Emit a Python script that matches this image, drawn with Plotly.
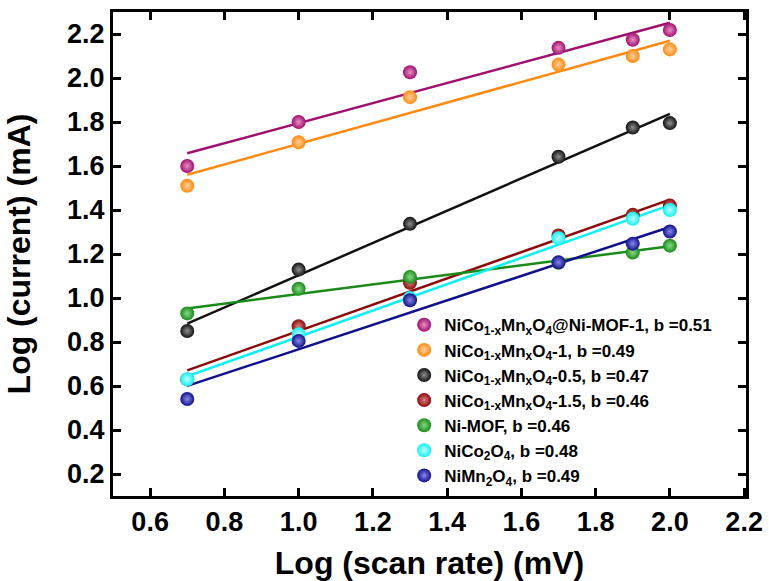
import numpy as np
import plotly.graph_objects as go

# ---- data ----
log_scan_rate = [0.7, 1.0, 1.3, 1.7, 1.9, 2.0]

mof_composite = [1.60, 1.80, 2.026, 2.137, 2.174, 2.218]
nicomn_1 = [1.51, 1.708, 1.913, 2.061, 2.10, 2.13]
nicomn_05 = [0.85, 1.129, 1.337, 1.642, 1.775, 1.795]
nicomn_15 = [0.63, 0.872, 1.069, 1.284, 1.378, 1.42]
ni_mof = [0.93, 1.042, 1.096, 1.16, 1.207, 1.238]
nico2o4 = [0.631, 0.835, 1.0, 1.272, 1.36, 1.40]
nimn2o4 = [0.541, 0.805, 0.99, 1.162, 1.247, 1.302]

series_names = [
    "NiCo<sub>1-x</sub>Mn<sub>x</sub>O<sub>4</sub>@Ni-MOF-1, b =0.51",
    "NiCo<sub>1-x</sub>Mn<sub>x</sub>O<sub>4</sub>-1, b =0.49",
    "NiCo<sub>1-x</sub>Mn<sub>x</sub>O<sub>4</sub>-0.5, b =0.47",
    "NiCo<sub>1-x</sub>Mn<sub>x</sub>O<sub>4</sub>-1.5, b =0.46",
    "Ni-MOF, b =0.46",
    "NiCo<sub>2</sub>O<sub>4</sub>, b =0.48",
    "NiMn<sub>2</sub>O<sub>4</sub>, b =0.49",
]
series_values = [mof_composite, nicomn_1, nicomn_05, nicomn_15, ni_mof, nico2o4, nimn2o4]
series_colors = ["#A0106E", "#FF8A10", "#111111", "#8B0A0A", "#1A8A1A", "#10F0F0", "#10108A"]
highlight_colors = ["#E890C4", "#FFD0A0", "#909090", "#D88080", "#88D888", "#C0FFFF", "#8888E8"]

x_ticks = [0.6, 0.8, 1.0, 1.2, 1.4, 1.6, 1.8, 2.0, 2.2]
y_ticks = [0.2, 0.4, 0.6, 0.8, 1.0, 1.2, 1.4, 1.6, 1.8, 2.0, 2.2]

FONT = "Liberation Sans, Arial, sans-serif"

fig = go.Figure()

xs = np.array(log_scan_rate)
# linear fit lines (drawn first, under the markers)
for vals, col in zip(series_values, series_colors):
    k, b = np.polyfit(xs, np.array(vals), 1)
    xf = np.array([xs.min(), xs.max()])
    fig.add_trace(go.Scatter(
        x=xf, y=k * xf + b, mode="lines",
        line=dict(color=col, width=2.5), showlegend=False, hoverinfo="skip"))

for name, vals, col, hl in zip(series_names, series_values, series_colors, highlight_colors):
    fig.add_trace(go.Scatter(
        x=log_scan_rate, y=vals, mode="markers", name=name,
        marker=dict(size=14, color=col, line=dict(width=0),
                    gradient=dict(type="radial", color=hl))))

axis_common = dict(
    showline=True, linecolor="black", linewidth=3, mirror="allticks",
    ticks="inside", ticklen=8, tickwidth=2.5, tickcolor="black",
    showgrid=False, zeroline=False, automargin=False,
    tickfont=dict(family=FONT, size=27, color="black", weight="bold"),
)

fig.update_xaxes(
    range=[0.5, 2.205], tickvals=x_ticks, ticktext=[f"{v:.1f}" for v in x_ticks],
    title=dict(text="Log (scan rate) (mV)", standoff=20,
               font=dict(family=FONT, size=32, color="black", weight="bold")),
    **axis_common)
fig.update_yaxes(
    range=[0.1, 2.3], tickvals=y_ticks, ticktext=[f"{v:.1f}" for v in y_ticks],
    title=dict(text="Log (current) (mA)", standoff=27,
               font=dict(family=FONT, size=32, color="black", weight="bold")),
    **axis_common)

fig.update_layout(
    width=769, height=581,
    margin=dict(l=113, r=23, t=12, b=85),
    paper_bgcolor="white", plot_bgcolor="white",
    legend=dict(x=0.46, y=0.39, xanchor="left", yanchor="top",
                bgcolor="rgba(0,0,0,0)", borderwidth=0,
                font=dict(family=FONT, size=17, color="black", weight="bold"),
                tracegroupgap=0, itemwidth=30),
    showlegend=True,
)

fig.write_html("out.html", config={"displayModeBar": False},
               post_script="document.body.style.margin='0';document.body.style.overflow='hidden';")
